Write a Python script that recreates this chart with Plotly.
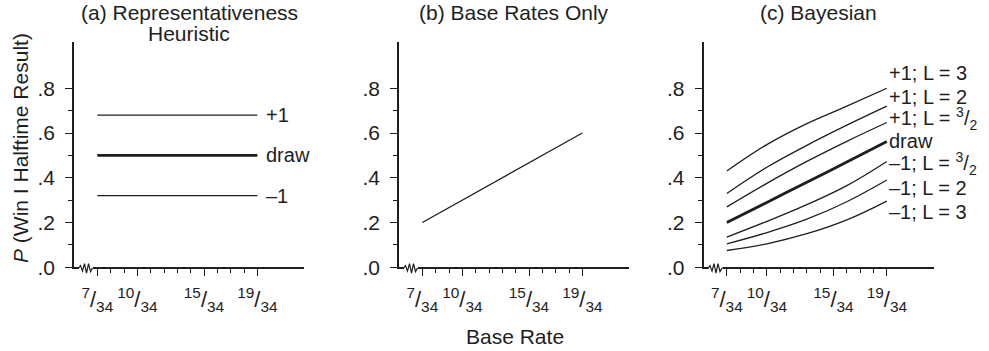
import plotly.graph_objects as go

# ---------------- data ----------------
major_numerators = [7, 10, 15, 19]
minor_numerators = [8, 9, 11, 12, 13, 14, 16, 17, 18]
denominator = 34
tick_labels = ["<sup>7</sup>/<sub>34</sub>", "<sup>10</sup>/<sub>34</sub>",
               "<sup>15</sup>/<sub>34</sub>", "<sup>19</sup>/<sub>34</sub>"]
y_tick_vals = [0.0, 0.2, 0.4, 0.6, 0.8]
y_tick_text = [".0", ".2", ".4", ".6", ".8"]
y_minor_vals = [0.1, 0.3, 0.5, 0.7]

# (a) Representativeness heuristic
rep_x = [7, 19]
rep_plus1 = [0.68, 0.68]
rep_draw = [0.50, 0.50]
rep_minus1 = [0.32, 0.32]

# (b) Base rates only
base_x = [7, 19]
base_y = [0.20, 0.60]

# (c) Bayesian
bay_x = [7, 10, 13, 16, 19]
bay_p1_L3 = [0.43, 0.548, 0.642, 0.72, 0.80]
bay_p1_L2 = [0.33, 0.447, 0.545, 0.635, 0.72]
bay_p1_L15 = [0.27, 0.375, 0.473, 0.563, 0.647]
bay_draw = [0.20, 0.29, 0.38, 0.47, 0.562]
bay_m1_L15 = [0.135, 0.205, 0.28, 0.365, 0.473]
bay_m1_L2 = [0.105, 0.155, 0.215, 0.293, 0.39]
bay_m1_L3 = [0.075, 0.105, 0.15, 0.212, 0.296]

bay_labels = ["+1; L = 3", "+1; L = 2", "+1; L = <sup>3</sup>/<sub>2</sub>", "draw",
              "–1; L = <sup>3</sup>/<sub>2</sub>", "–1; L = 2", "–1; L = 3"]
bay_label_y = [0.87, 0.762, 0.663, 0.566, 0.465, 0.356, 0.248]

# ---------------- style ----------------
W, H = 989, 351
INK = "#1e1e1e"
FONT = "Liberation Sans, Arial, Helvetica, sans-serif"
THIN, BOLD = 1.3, 2.8

x_doms = [(74 / W, 304 / W), (399 / W, 629 / W), (703.5 / W, 933.5 / W)]
y_dom = ((H - 267.3) / H, (H - 41.7) / H)
x_range = [5.25 / denominator, 22.5 / denominator]
y_range = [0, 1.008]


def fx(nums):
    return [n / denominator for n in nums]


fig = go.Figure()


def add_line(idx, xs, ys, width):
    sfx = "" if idx == 1 else str(idx)
    fig.add_trace(go.Scatter(x=fx(xs), y=ys, mode="lines",
                             line=dict(color=INK, width=width, shape="spline", smoothing=1.1),
                             xaxis="x" + sfx, yaxis="y" + sfx,
                             showlegend=False, hoverinfo="skip"))


add_line(1, rep_x, rep_plus1, THIN)
add_line(1, rep_x, rep_draw, BOLD)
add_line(1, rep_x, rep_minus1, THIN)
add_line(2, base_x, base_y, THIN)
for ys in [bay_p1_L3, bay_p1_L2, bay_p1_L15, bay_m1_L15, bay_m1_L2, bay_m1_L3]:
    add_line(3, bay_x, ys, THIN)
add_line(3, bay_x, bay_draw, BOLD)

axis_common = dict(showline=True, linecolor=INK, linewidth=1.5, ticks="outside",
                   tickcolor=INK, tickwidth=1.3, ticklen=7, showgrid=False,
                   zeroline=False, fixedrange=True, automargin=False)

layout = dict(width=W, height=H, margin=dict(l=0, r=0, t=0, b=0, autoexpand=False),
              paper_bgcolor="white", plot_bgcolor="white",
              font=dict(family=FONT, color=INK, size=20), showlegend=False)

for i, dom in enumerate(x_doms, start=1):
    sfx = "" if i == 1 else str(i)
    layout["xaxis" + sfx] = dict(axis_common, domain=list(dom), range=x_range,
                                 anchor="y" + sfx, tickmode="array",
                                 tickvals=fx(major_numerators), ticktext=tick_labels,
                                 tickfont=dict(family=FONT, size=22, color=INK),
                                 tickangle=0, ticklabelstandoff=5,
                                 minor=dict(tickmode="array", tickvals=fx(minor_numerators),
                                            ticklen=4, tickcolor=INK, tickwidth=1.2,
                                            ticks="outside"))
    layout["yaxis" + sfx] = dict(axis_common, domain=list(y_dom), range=y_range,
                                 anchor="x" + sfx, tickmode="array",
                                 tickvals=y_tick_vals, ticktext=y_tick_text,
                                 tickfont=dict(family=FONT, size=21, color=INK),
                                 ticklabelstandoff=6,
                                 minor=dict(tickmode="array", tickvals=y_minor_vals,
                                            ticklen=4, tickcolor=INK, tickwidth=1.2,
                                            ticks="outside"))
fig.update_layout(**layout)

ann = []
# panel titles
titles = ["(a) Representativeness", "(b) Base Rates Only", "(c) Bayesian"]
for dom, t in zip(x_doms, titles):
    ann.append(dict(text=t, x=(dom[0] + dom[1]) / 2, y=(H - 12.5) / H, xref="paper",
                    yref="paper", showarrow=False, xanchor="center", yanchor="middle",
                    font=dict(size=21, family=FONT, color=INK)))
ann.append(dict(text="Heuristic", x=(x_doms[0][0] + x_doms[0][1]) / 2, y=(H - 33) / H,
                xref="paper", yref="paper", showarrow=False, xanchor="center",
                yanchor="middle", font=dict(size=21, family=FONT, color=INK)))
# axis titles
ann.append(dict(text="<i>P</i> (Win I Halftime Result)", x=20 / W, y=(H - 148) / H,
                xref="paper", yref="paper", showarrow=False, textangle=-90,
                xanchor="center", yanchor="middle",
                font=dict(size=21, family=FONT, color=INK)))
ann.append(dict(text="Base Rate", x=515 / W, y=(H - 336) / H, xref="paper", yref="paper",
                showarrow=False, xanchor="center", yanchor="middle",
                font=dict(size=21, family=FONT, color=INK)))
# panel (a) labels
for lab, ys in zip(["+1", "draw", "–1"], [rep_plus1, rep_draw, rep_minus1]):
    ann.append(dict(text=lab, x=rep_x[-1] / denominator, y=ys[-1], xref="x", yref="y",
                    showarrow=False, xanchor="left", yanchor="middle", xshift=7,
                    font=dict(size=20, family=FONT, color=INK)))
# panel (c) labels
for lab, yl in zip(bay_labels, bay_label_y):
    ann.append(dict(text=lab, x=bay_x[-1] / denominator, y=yl, xref="x3", yref="y3",
                    showarrow=False, xanchor="left", yanchor="middle", xshift=0,
                    font=dict(size=20, family=FONT, color=INK)))
fig.update_layout(annotations=ann)

# axis-break zigzags
shapes = []
DW, DH = 230.0, 225.6
for i in range(1, 4):
    sfx = "" if i == 1 else str(i)
    xr, yr = "x" + sfx + " domain", "y" + sfx + " domain"
    y0 = -0.8 / DH
    shapes.append(dict(type="line", xref=xr, yref=yr, x0=5 / DW, x1=19 / DW, y0=y0, y1=y0,
                       line=dict(color="white", width=4), layer="above"))
    pts = [(4.5, 0), (6.5, -2.5), (8.5, 3), (10.5, -4.5), (12.5, 5), (14.5, -4.5),
           (16.5, 3.5), (18.5, 0)]
    path = "M " + " L ".join(f"{px / DW:.5f},{(y0 * DH - py) / DH:.5f}" for px, py in pts)
    shapes.append(dict(type="path", xref=xr, yref=yr, path=path,
                       line=dict(color=INK, width=1.2), layer="above"))
fig.update_layout(shapes=shapes)

fig.write_html("out.html")
